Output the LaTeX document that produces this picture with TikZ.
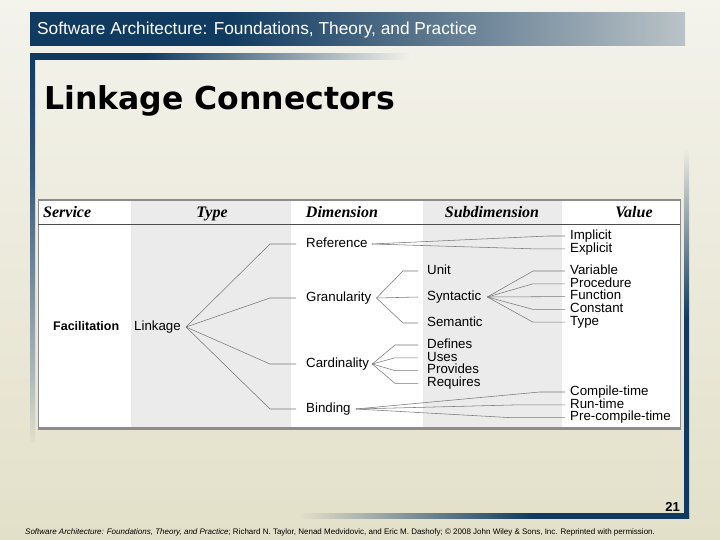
\documentclass[tikz,border=0pt]{standalone}
\usepackage{fontspec}
\usepackage{xcolor}
\usepackage{tikz}
\usetikzlibrary{positioning}
\newfontfamily\hsans{Liberation Sans}
\newfontfamily\titlesans{DejaVu Sans}
\newfontfamily\hserif{Liberation Serif}
\definecolor{slidenavy}{RGB}{16,58,96}
\definecolor{slidehl}{RGB}{186,195,199}
\definecolor{slidepale}{RGB}{176,186,190}
\definecolor{slidebgt}{RGB}{244,243,236}
\definecolor{slidebgm}{RGB}{238,236,224}
\definecolor{slidebgb}{RGB}{227,224,201}
\definecolor{tabband}{RGB}{235,235,235}
\definecolor{tabrule}{RGB}{140,140,140}
\definecolor{treeln}{RGB}{120,120,120}
% fades for the slide frame
\pgfdeclarehorizontalshading{hdrshade}{100bp}{color(0bp)=(slidenavy); color(25bp)=(slidenavy); color(40bp)=(slidenavy); color(75bp)=(slidehl); color(100bp)=(slidehl)}
\pgfdeclarehorizontalshading{topfade}{100bp}{color(0bp)=(slidenavy); color(25bp)=(slidenavy); color(40bp)=(slidenavy); color(75bp)=(slidebgt); color(100bp)=(slidebgt)}
\pgfdeclarehorizontalshading{botfade}{100bp}{color(0bp)=(slidebgb); color(25bp)=(slidebgb); color(55bp)=(slidenavy); color(100bp)=(slidenavy)}
\pgfdeclareverticalshading{leftfade}{100bp}{color(0bp)=(slidebgb); color(25bp)=(slidebgb); color(33bp)=(slidepale); color(60bp)=(slidenavy!85!white); color(75bp)=(slidenavy); color(100bp)=(slidenavy)}
\pgfdeclareverticalshading{rightfade}{100bp}{color(0bp)=(slidenavy); color(25bp)=(slidenavy); color(52bp)=(slidenavy); color(75bp)=(slidebgm); color(100bp)=(slidebgm)}

\begin{document}
\begin{tikzpicture}[x=1pt,y=-1pt,
  node distance=0pt,
  lbl/.style={font=\hsans\fontsize{13.3}{14}\selectfont,
    inner sep=0pt, text height=9.4pt, text depth=3pt, anchor=west},
  colhd/.style={font=\hserif\bfseries\itshape\fontsize{16}{18}\selectfont,
    inner sep=0pt, anchor=base},
  ln/.style={draw=treeln, line width=0.55pt}
]
% slide
\shade[top color=slidebgt, bottom color=slidebgb] (0,0) rectangle (720,540);
\useasboundingbox (0,0) rectangle (720,540);
\shade[shading=hdrshade] (30,13) rectangle (685,46);
\shade[shading=topfade] (30,54) rectangle (413,60);
\shade[shading=leftfade] (30,54) rectangle (35,442);
\shade[shading=rightfade] (684,150) rectangle (689,518);
\shade[shading=botfade] (300,513) rectangle (689,518);

\node[anchor=base west, inner sep=0pt, text=white,
  font=\hsans\fontsize{17.3}{20}\selectfont] (hdr) at (37,35)
  {Software Architecture: Foundations, Theory, and Practice};
\node[anchor=base west, inner sep=0pt,
  font=\titlesans\bfseries\fontsize{31.5}{36}\selectfont] (ttl) at (44,110)
  {Linkage Connectors};

% table
\fill[white] (38,199) rectangle (680,429);
\fill[tabband] (131,201) rectangle (291,428);
\fill[tabband] (423,201) rectangle (562,428);
\draw[tabrule, line width=0.6pt] (38,199) rectangle (680,429);
\draw[tabrule, line width=2.2pt] (38,200) -- (680,200);
\draw[tabrule, line width=2.6pt] (38,428) -- (680,428);
\draw[black!70, line width=0.8pt] (38,224) -- (680,224);

\node[colhd, anchor=base west] (hsrv) at (43,218) {Service};
\node[colhd] (htyp) at (212,218) {Type};
\node[colhd] (hdim) at (342,218) {Dimension};
\node[colhd] (hsub) at (492,218) {Subdimension};
\node[colhd] (hval) at (634,218) {Value};

\node[lbl, font=\hsans\bfseries\fontsize{12.5}{14}\selectfont] (fac) at (53,327) {Facilitation};
\node[lbl] (link) at (134,327) {Linkage};

\node[lbl] (ref) at (306,244) {Reference};
\node[lbl] (gran) at (306,298) {Granularity};
\node[lbl] (card) at (306,364) {Cardinality};
\node[lbl] (bind) at (306,409) {Binding};

\node[lbl] (unit) at (427,271) {Unit};
\node[lbl] (synt) at (427,297) {Syntactic};
\node[lbl] (sem) at (427,323) {Semantic};
\node[lbl] (defs) at (427,345) {Defines};
\node[lbl, below=of defs.south west, anchor=north west] (uses) {Uses};
\node[lbl, below=of uses.south west, anchor=north west] (prov) {Provides};
\node[lbl, below=of prov.south west, anchor=north west] (reqs) {Requires};

\node[lbl] (impl) at (570,236) {Implicit};
\node[lbl, below=of impl.south west, anchor=north west] (expl) {Explicit};
\node[lbl] (var) at (570,271) {Variable};
\node[lbl, below=of var.south west, anchor=north west] (proc) {Procedure};
\node[lbl, below=of proc.south west, anchor=north west] (func) {Function};
\node[lbl, below=of func.south west, anchor=north west] (cnst) {Constant};
\node[lbl, below=of cnst.south west, anchor=north west] (typ) {Type};
\node[lbl] (ctime) at (570,392) {Compile-time};
\node[lbl, below=of ctime.south west, anchor=north west] (rtime) {Run-time};
\node[lbl, below=of rtime.south west, anchor=north west] (pctime) {Pre-compile-time};

% tree
\draw[ln] ([xshift=5pt]link.east) -- ([xshift=-36pt]ref.west) -- ([xshift=-10pt]ref.west);
\draw[ln] ([xshift=5pt]link.east) -- ([xshift=-36pt]gran.west) -- ([xshift=-10pt]gran.west);
\draw[ln] ([xshift=5pt]link.east) -- ([xshift=-36pt]card.west) -- ([xshift=-10pt]card.west);
\draw[ln] ([xshift=5pt]link.east) -- ([xshift=-36pt]bind.west) -- ([xshift=-10pt]bind.west);

\draw[ln] ([xshift=4pt]ref.east) -- ([xshift=-22pt]impl.west) -- ([xshift=-5pt]impl.west);
\draw[ln] ([xshift=4pt]ref.east) -- ([xshift=-38pt]expl.west) -- ([xshift=-5pt]expl.west);

\draw[ln] ([xshift=5pt]gran.east) -- ([xshift=-24pt]unit.west) -- ([xshift=-9pt]unit.west);
\draw[ln] ([xshift=5pt]gran.east) -- ([xshift=-9pt]synt.west);
\draw[ln] ([xshift=5pt]gran.east) -- ([xshift=-24pt]sem.west) -- ([xshift=-9pt]sem.west);

\draw[ln] ([xshift=6pt]synt.east) -- ([xshift=-37pt]var.west) -- ([xshift=-5pt]var.west);
\draw[ln] ([xshift=6pt]synt.east) -- ([xshift=-37pt]proc.west) -- ([xshift=-5pt]proc.west);
\draw[ln] ([xshift=6pt]synt.east) -- ([xshift=-5pt]func.west);
\draw[ln] ([xshift=6pt]synt.east) -- ([xshift=-37pt]cnst.west) -- ([xshift=-5pt]cnst.west);
\draw[ln] ([xshift=6pt]synt.east) -- ([xshift=-37pt]typ.west) -- ([xshift=-5pt]typ.west);

\draw[ln] ([xshift=3pt]card.east) -- ([xshift=-32pt]defs.west) -- ([xshift=-9pt]defs.west);
\draw[ln] ([xshift=3pt]card.east) -- ([xshift=-32pt]uses.west) -- ([xshift=-9pt]uses.west);
\draw[ln] ([xshift=3pt]card.east) -- ([xshift=-32pt]prov.west) -- ([xshift=-9pt]prov.west);
\draw[ln] ([xshift=3pt]card.east) -- ([xshift=-32pt]reqs.west) -- ([xshift=-9pt]reqs.west);

\draw[ln] ([xshift=5pt]bind.east) -- ([xshift=-30pt]ctime.west) -- ([xshift=-5pt]ctime.west);
\draw[ln] ([xshift=5pt]bind.east) -- ([xshift=-50pt]rtime.west) -- ([xshift=-5pt]rtime.west);
\draw[ln] ([xshift=5pt]bind.east) -- ([xshift=-60pt]pctime.west) -- ([xshift=-5pt]pctime.west);

% footer
\node[anchor=base east, inner sep=0pt,
  font=\hsans\bfseries\fontsize{13}{15}\selectfont] (pgno) at (680,511) {21};
\node[anchor=base west, inner sep=0pt,
  font=\hsans\fontsize{8}{9}\selectfont] (cred) at (25,534)
  {\textit{Software Architecture: Foundations, Theory, and Practice}; Richard N. Taylor, Nenad Medvidovic, and Eric M. Dashofy; \copyright{} 2008 John Wiley \& Sons, Inc. Reprinted with permission.};
\end{tikzpicture}
\end{document}
